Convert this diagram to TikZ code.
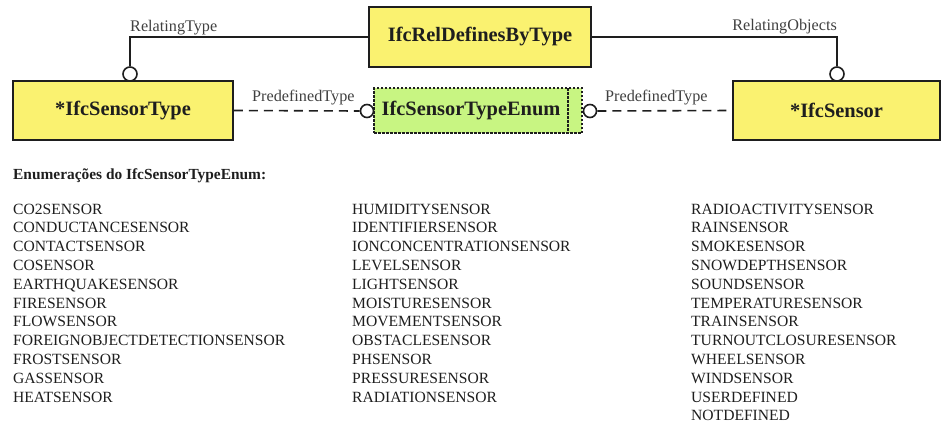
\documentclass[tikz,border=0pt]{standalone}
\usepackage{fontspec}
\setmainfont{Liberation Serif}
\definecolor{boxyellow}{RGB}{250,242,112}
\definecolor{enumgreen}{RGB}{200,245,130}
\definecolor{ink}{RGB}{30,30,30}
\tikzset{
  entity/.style={draw=ink, line width=1.8pt, fill=boxyellow, rectangle, inner sep=0pt,
    font=\fontsize{20.4}{24}\selectfont\bfseries, text=ink},
  enumbox/.style={draw=ink, line width=1.6pt, dash pattern=on 2.5pt off 1.5pt, fill=enumgreen, rectangle, inner sep=0pt},
  enumtext/.style={font=\fontsize{20.4}{24}\selectfont\bfseries, text=ink, inner sep=0pt},
  ring/.style={draw=ink, line width=1.6pt, fill=white, circle, inner sep=0pt, minimum size=13pt},
  link/.style={draw=ink, line width=1.6pt},
  dlink/.style={draw=ink, line width=1.6pt, dash pattern=on 9pt off 6pt},
  rolelabel/.style={font=\fontsize{16.2}{19}\selectfont, text=ink!85, inner sep=0pt},
  heading/.style={font=\fontsize{15.4}{18}\selectfont\bfseries, text=ink, inner sep=0pt, anchor=base west},
  item/.style={font=\fontsize{15.6}{18.8}\selectfont, text=ink, inner sep=0pt, anchor=base west}
}
\begin{document}
\begin{tikzpicture}[x=1pt,y=-1pt]
\useasboundingbox (0,0) rectangle (944,423);
% entities
\node[entity, minimum width=222pt, minimum height=60pt] (rel) at (480,37) {IfcRelDefinesByType};
\node[entity, minimum width=220pt, minimum height=59pt] (st) at (123,110.5) {*IfcSensorType};
\node[entity, minimum width=207pt, minimum height=59pt] (sen) at (836.5,110.5) {*IfcSensor};
\node[enumbox, minimum width=208pt, minimum height=45pt] (enum) at (478,110.5) {};
\node[enumtext] (enumlbl) at (471,111) {IfcSensorTypeEnum};
\coordinate (ia) at (568,88);
\coordinate (ib) at (568,133);
\draw[draw=ink, line width=1.6pt, dash pattern=on 2.5pt off 1.5pt] (ia) -- (ib);
% rings
\node[ring, minimum size=14pt] (c1) at (130,74) {};
\node[ring, minimum size=14pt] (c2) at (837,74) {};
\node[ring] (c3) at (367,111) {};
\node[ring] (c4) at (590,111) {};
% connectors
\draw[link] (rel.west) -| (c1.north);
\draw[link] (rel.east) -| (c2.north);
\draw[dlink] (st.east) -- (c3.west);
\draw[dlink] (c4.east) -- (sen.west);
% labels
\node[rolelabel, anchor=base west] (l1) at (130,31) {RelatingType};
\node[rolelabel, anchor=base east] (l2) at (837,30) {RelatingObjects};
\node[rolelabel, anchor=base west] (l3) at (252,101) {PredefinedType};
\node[rolelabel, anchor=base west] (l4) at (605,101) {PredefinedType};
% enumeration list
\node[heading] (hd) at (13,179) {Enumerações do IfcSensorTypeEnum:};
\foreach \t [count=\i] in {CO2SENSOR,CONDUCTANCESENSOR,CONTACTSENSOR,COSENSOR,EARTHQUAKESENSOR,FIRESENSOR,FLOWSENSOR,FOREIGNOBJECTDETECTIONSENSOR,FROSTSENSOR,GASSENSOR,HEATSENSOR}
  \node[item] (a\i) at (13,{214+18.8*(\i-1)}) {\t};
\foreach \t [count=\i] in {HUMIDITYSENSOR,IDENTIFIERSENSOR,IONCONCENTRATIONSENSOR,LEVELSENSOR,LIGHTSENSOR,MOISTURESENSOR,MOVEMENTSENSOR,OBSTACLESENSOR,PHSENSOR,PRESSURESENSOR,RADIATIONSENSOR}
  \node[item] (b\i) at (352,{214+18.8*(\i-1)}) {\t};
\foreach \t [count=\i] in {RADIOACTIVITYSENSOR,RAINSENSOR,SMOKESENSOR,SNOWDEPTHSENSOR,SOUNDSENSOR,TEMPERATURESENSOR,TRAINSENSOR,TURNOUTCLOSURESENSOR,WHEELSENSOR,WINDSENSOR,USERDEFINED,NOTDEFINED}
  \node[item] (c\i) at (691,{214+18.8*(\i-1)}) {\t};
\end{tikzpicture}
\end{document}
